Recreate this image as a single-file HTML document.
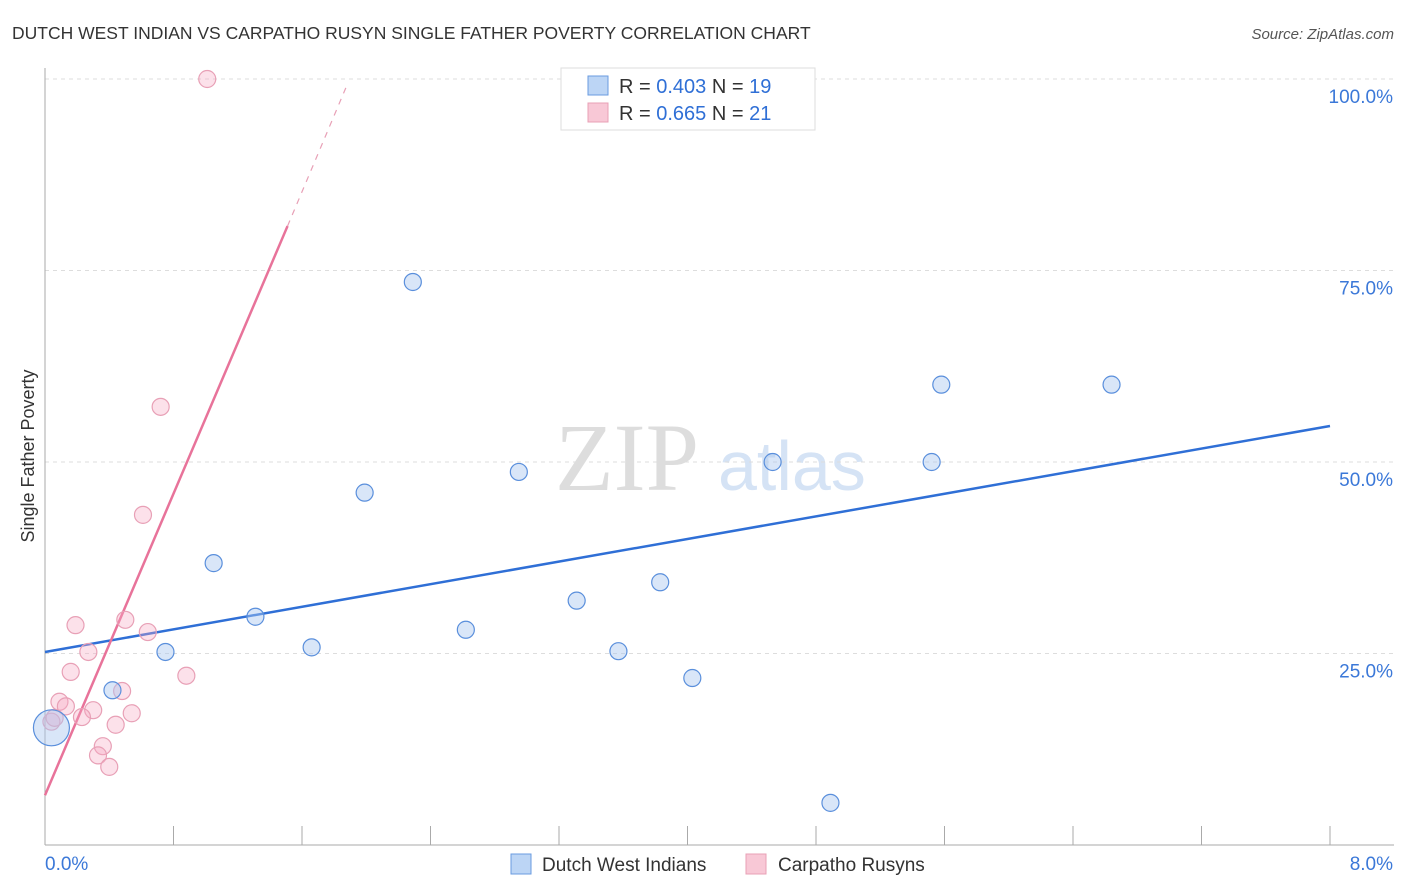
<!DOCTYPE html>
<html><head><meta charset="utf-8"><style>
body{margin:0;background:#fff;font-family:"Liberation Sans",sans-serif;}
svg{display:block}
</style></head><body>
<svg width="1406" height="892" viewBox="0 0 1406 892">
<text x="12" y="39" font-size="17.5" fill="#333">DUTCH WEST INDIAN VS CARPATHO RUSYN SINGLE FATHER POVERTY CORRELATION CHART</text>
<text x="1394" y="39" font-size="15" fill="#555" font-style="italic" text-anchor="end">Source: ZipAtlas.com</text>
<text x="34" y="456" font-size="18" fill="#333" text-anchor="middle" transform="rotate(-90 34 456)">Single Father Poverty</text>
<g><text x="555" y="490" font-size="96" fill="#ddd" font-family="Liberation Serif,serif">ZIP</text><text x="718" y="490" font-size="70" fill="#d5e3f5">atlas</text></g>
<g id="grid"></g><g id="axes"></g><g id="lines"></g><g id="pts"></g>
<g>
<rect x="561" y="68" width="254" height="62" fill="#fff" stroke="#ddd"/>
<rect x="588" y="76" width="20" height="19" fill="#bcd5f5" stroke="#6a9be0"/>
<text x="619" y="93" font-size="20" fill="#333">R = <tspan fill="#2f6fd6">0.403</tspan>   N = <tspan fill="#2f6fd6">19</tspan></text>
<rect x="588" y="103" width="20" height="19" fill="#f8c8d6" stroke="#e8a0b6"/>
<text x="619" y="120" font-size="20" fill="#333">R = <tspan fill="#2f6fd6">0.665</tspan>   N = <tspan fill="#2f6fd6">21</tspan></text>
</g>
<g>
<rect x="511" y="854" width="20" height="20" fill="#bcd5f5" stroke="#6a9be0"/>
<text x="542" y="871" font-size="19" fill="#333">Dutch West Indians</text>
<rect x="746" y="854" width="20" height="20" fill="#f8c8d6" stroke="#e8a0b6"/>
<text x="778" y="871" font-size="19" fill="#333">Carpatho Rusyns</text>
</g>
</svg>
<script>
const xTicks=[0,8];
const yTicks=[25,50,75,100];
const blueX=[0.04,0.42,0.75,1.05,1.31,1.66,1.99,2.29,2.62,2.95,3.31,3.57,3.83,4.03,4.53,4.89,5.52,5.58,6.64];
const blueY=[15.3,20.2,25.2,36.8,29.8,25.8,46.0,73.5,28.1,48.7,31.9,25.3,34.3,21.8,50.0,5.5,50.0,60.1,60.1];
const pinkX=[1.01,0.72,0.61,0.19,0.50,0.64,0.27,0.16,0.88,0.48,0.09,0.13,0.30,0.23,0.54,0.04,0.44,0.36,0.33,0.40,0.06];
const pinkY=[100,57.2,43.1,28.7,29.4,27.8,25.2,22.6,22.1,20.1,18.7,18.1,17.6,16.7,17.2,16.1,15.7,12.9,11.7,10.2,16.6];
const blueTrend=[[0,25.2],[8,54.7]];
const pinkTrend=[[0,6.5],[1.51,80.8],[1.88,99.2]];
const NS='http://www.w3.org/2000/svg';
const sx=v=>45+v/8*1285, sy=v=>845-v/100*766;
function mk(t,a,p){const e=document.createElementNS(NS,t);for(const k in a)e.setAttribute(k,a[k]);document.getElementById(p).appendChild(e);return e;}
yTicks.forEach(t=>{
 const l=mk('line',{x1:45,x2:1394,y1:sy(t),y2:sy(t),stroke:'#ddd','stroke-dasharray':'4,4'},'grid');
 
 
 const tx=mk('text',{x:1393,y:sy(t)+24,'font-size':19,fill:'#3b78d8','text-anchor':'end'},'grid');tx.textContent=t.toFixed(1)+'%';
 
 
});
mk('line',{x1:45,x2:45,y1:68,y2:845,stroke:'#aaa'},'axes');
mk('line',{x1:45,x2:1394,y1:845,y2:845,stroke:'#aaa'},'axes');
for(let i=1;i<=10;i++){const x=sx(i*0.8);const t=mk('line',{x1:x,x2:x,y1:826,y2:845,stroke:'#aaa'},'axes');
 
 }
xTicks.forEach((t,i)=>{const tx=mk('text',{x:i?1393:45,y:870,'font-size':19,fill:'#3b78d8','text-anchor':i?'end':'start'},'axes');tx.textContent=t.toFixed(1)+'%';
 
 });
const bl=mk('line',{x1:sx(blueTrend[0][0]),y1:sy(blueTrend[0][1]),x2:sx(blueTrend[1][0]),y2:sy(blueTrend[1][1]),stroke:'#2f6fd6','stroke-width':2.5},'lines');


const pl=mk('line',{x1:sx(pinkTrend[0][0]),y1:sy(pinkTrend[0][1]),x2:sx(pinkTrend[1][0]),y2:sy(pinkTrend[1][1]),stroke:'#e8739a','stroke-width':2.5},'lines');


const pd=mk('line',{x1:sx(pinkTrend[1][0]),y1:sy(pinkTrend[1][1]),x2:sx(pinkTrend[2][0]),y2:sy(pinkTrend[2][1]),stroke:'#e8a0b6','stroke-width':1.2,'stroke-dasharray':'6,6'},'lines');


pinkX.forEach((x,i)=>{const c=mk('circle',{cx:sx(x),cy:sy(pinkY[i]),r:8.5,fill:'rgba(245,170,195,0.35)',stroke:'#e8a0b6','stroke-width':1.2},'pts');
 
 });
blueX.forEach((x,i)=>{const c=mk('circle',{cx:sx(x),cy:sy(blueY[i]),r:i==0?18:8.5,fill:'rgba(170,200,240,0.45)',stroke:'#5a8fdc','stroke-width':1.2},'pts');
 
 });
</script>
</body></html>
